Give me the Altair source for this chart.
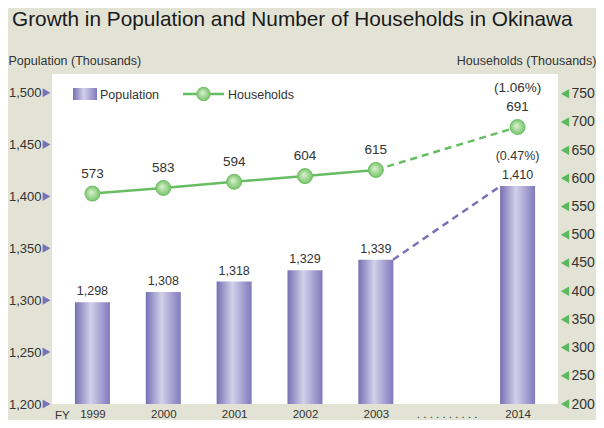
import altair as alt
import pandas as pd

# ---- data ----
x_labels = ["1999", "2000", "2001", "2002", "2003", ". . . . . . . . . .", "2014"]
bar_years = ["1999", "2000", "2001", "2002", "2003", "2014"]
bar_index = [0, 1, 2, 3, 4, 6]
population = [1298, 1308, 1318, 1329, 1339, 1410]
households = [573, 583, 594, 604, 615, 691]
pop_pct_2014 = "(0.47%)"
hh_pct_2014 = "(1.06%)"
left_ticks = [1200, 1250, 1300, 1350, 1400, 1450, 1500]
right_ticks = [200, 250, 300, 350, 400, 450, 500, 550, 600, 650, 700, 750]

# ---- layout / style ----
W, H = 506, 330
PAD = {"left": 44, "top": 66, "right": 38, "bottom": 16}
STEP = W / 7.0
BAR_W = 35
HALF = BAR_W / 2 / STEP
BG = "#e2e3d5"
TXT = "#333333"
FONT = "Liberation Sans"
PURPLE = "#7a72b8"
GREEN = "#66bd63"

bar_grad = alt.LinearGradient(
    gradient="linear", x1=0, x2=1, y1=0, y2=0,
    stops=[alt.GradientStop(offset=0, color="#7670b3"),
           alt.GradientStop(offset=0.45, color="#d3d0ea"),
           alt.GradientStop(offset=1, color="#8079bc")])
pt_grad = alt.RadialGradient(
    gradient="radial", x1=0.4, y1=0.4, r1=0, x2=0.5, y2=0.5, r2=0.5,
    stops=[alt.GradientStop(offset=0, color="#dcf2d2"),
           alt.GradientStop(offset=1, color="#79c46c")])

xscale = alt.Scale(domain=[-0.5, 6.5], nice=False, zero=False)
yl = alt.Scale(domain=[1200, 1518], nice=False, zero=False)
yr = alt.Scale(domain=[200, 785], nice=False, zero=False)

df = pd.DataFrame({"idx": bar_index, "year": bar_years, "pop": population, "hh": households})
df["pop_lbl"] = [f"{v:,}" for v in population]
df["hh_lbl"] = [str(v) for v in households]
df["base"] = left_ticks[0]
df_solid = df[df["idx"] <= 4]
df_dash = df[df["idx"] >= 4]
df_last = df[df["idx"] == 6].copy()
df_last["pop_pct"] = pop_pct_2014
df_last["hh_pct"] = hh_pct_2014
df_pdash = pd.DataFrame({"idx": [4 + HALF, 6 - HALF], "pop": [population[4], population[5]]})
df_lt = pd.DataFrame({"pop": left_ticks})
df_rt = pd.DataFrame({"hh": right_ticks})
one = pd.DataFrame({"a": [0]})

labels_js = "[" + ",".join(f"'{s}'" for s in x_labels) + "]"
xaxis = alt.Axis(values=list(range(7)), labelExpr=f"{labels_js}[datum.value]",
                 ticks=False, domain=False, grid=False, title=None, zindex=1,
                 labelFont=FONT, labelFontSize=11.5, labelColor=TXT,
                 labelPadding=4, labelFlush=False, labelOverlap=False)
X = alt.X("idx:Q", scale=xscale, axis=xaxis)

left_axis = alt.Axis(values=left_ticks, format=",d", ticks=False, domain=False, grid=False,
                     labelFont=FONT, labelFontSize=13, labelColor=TXT, labelPadding=11,
                     labelOverlap=False, zindex=1,
                     title="Population (Thousands)", titleAngle=0, titleX=-44, titleY=-10,
                     titleAlign="left", titleBaseline="alphabetic", titleFont=FONT,
                     titleFontSize=12.5, titleFontWeight="normal", titleColor=TXT)
right_axis = alt.Axis(values=right_ticks, format="d", ticks=False, domain=False, grid=False,
                      orient="right", labelOverlap=False, zindex=1,
                      labelFont=FONT, labelFontSize=14, labelColor=TXT, labelPadding=13,
                      title="Households (Thousands)", titleAngle=0, titleX=38, titleY=-10,
                      titleAlign="right", titleBaseline="alphabetic", titleFont=FONT,
                      titleFontSize=12.5, titleFontWeight="normal", titleColor=TXT)
Yl = alt.Y("pop:Q", scale=yl, axis=left_axis)
Yr = alt.Y("hh:Q", scale=yr, axis=right_axis)

base = alt.Chart(df)

plot_bg = alt.Chart(one).mark_rect(color="white").encode(
    x=alt.value(0), x2=alt.value(W), y=alt.value(0), y2=alt.value(H))
bars = base.mark_bar(width=BAR_W, color=bar_grad, clip=True).encode(x=X, y=Yl, y2="base:Q")
bar_txt = base.mark_text(dy=-7, baseline="alphabetic", font=FONT, fontSize=12.5, color=TXT).encode(
    x=X, y=Yl, text="pop_lbl:N")
bar_pct = alt.Chart(df_last).mark_text(dy=-26, baseline="alphabetic", font=FONT, fontSize=12.5, color=TXT).encode(
    x=X, y=Yl, text="pop_pct:N")
pdash = alt.Chart(df_pdash).mark_line(color=PURPLE, strokeDash=[7, 5], strokeWidth=2.5).encode(x=X, y=Yl)
ltri = alt.Chart(df_lt).mark_point(shape="triangle-right", filled=True, size=81, color=PURPLE, opacity=1).encode(
    x=alt.value(-5.5), y=Yl)

# legend (drawn inside the plot)
leg_rect = alt.Chart(one).mark_rect(color=bar_grad).encode(
    x=alt.value(21), x2=alt.value(45), y=alt.value(14), y2=alt.value(26))
leg_t1 = alt.Chart(one).mark_text(align="left", baseline="alphabetic", font=FONT, fontSize=12.5, color=TXT,
                                  text="Population").encode(x=alt.value(48), y=alt.value(25))
leg_line = alt.Chart(one).mark_rule(color=GREEN, strokeWidth=2.5).encode(
    x=alt.value(131), x2=alt.value(172), y=alt.value(20))
leg_pt = alt.Chart(one).mark_point(shape="circle", filled=True, size=180, fill=pt_grad,
                                   stroke="#6cbf62", strokeWidth=1, opacity=1).encode(
    x=alt.value(151.5), y=alt.value(20))
leg_t2 = alt.Chart(one).mark_text(align="left", baseline="alphabetic", font=FONT, fontSize=12.5, color=TXT,
                                  text="Households").encode(x=alt.value(176), y=alt.value(25))
fy = alt.Chart(one).mark_text(align="left", baseline="alphabetic", font=FONT, fontSize=11.5, color=TXT,
                              text="FY").encode(x=alt.value(3), y=alt.value(H + 14.5))

left = alt.layer(plot_bg, bars, bar_txt, bar_pct, pdash, ltri, leg_rect, leg_t1, leg_line, leg_pt, leg_t2, fy)

hh_solid = alt.Chart(df_solid).mark_line(color=GREEN, strokeWidth=2.5).encode(x=X, y=Yr)
hh_dash = alt.Chart(df_dash).mark_line(color=GREEN, strokeWidth=2.5, strokeDash=[7, 5]).encode(x=X, y=Yr)
hh_pts = base.mark_point(shape="circle", filled=True, size=225, fill=pt_grad, stroke="#6cbf62",
                         strokeWidth=1, opacity=1).encode(x=X, y=Yr)
hh_txt = base.mark_text(dy=-16, baseline="alphabetic", font=FONT, fontSize=13.5, color=TXT).encode(
    x=X, y=Yr, text="hh_lbl:N")
hh_pct = alt.Chart(df_last).mark_text(dy=-35, baseline="alphabetic", font=FONT, fontSize=13.5, color=TXT).encode(
    x=X, y=Yr, text="hh_pct:N")
rtri = alt.Chart(df_rt).mark_point(shape="triangle-left", filled=True, size=90, color="#5cb85c", opacity=1).encode(
    x=alt.value(W + 7), y=Yr)

right = alt.layer(hh_solid, hh_dash, hh_pts, hh_txt, hh_pct, rtri)

title = alt.Chart(one).mark_text(align="left", baseline="alphabetic", font=FONT, fontSize=20.8,
                                 color="#1a1a1a",
                                 text="Growth in Population and Number of Households in Okinawa").encode(
    x=alt.value(-40), y=alt.value(-48))

chart = alt.layer(left, right, title).resolve_scale(y="independent").properties(
    width=W, height=H,
    autosize=alt.AutoSizeParams(type="none"),
    padding=PAD,
).configure(background=BG).configure_view(stroke="transparent")

chart.save("out.html", embed_options={"renderer": "svg", "actions": False})
